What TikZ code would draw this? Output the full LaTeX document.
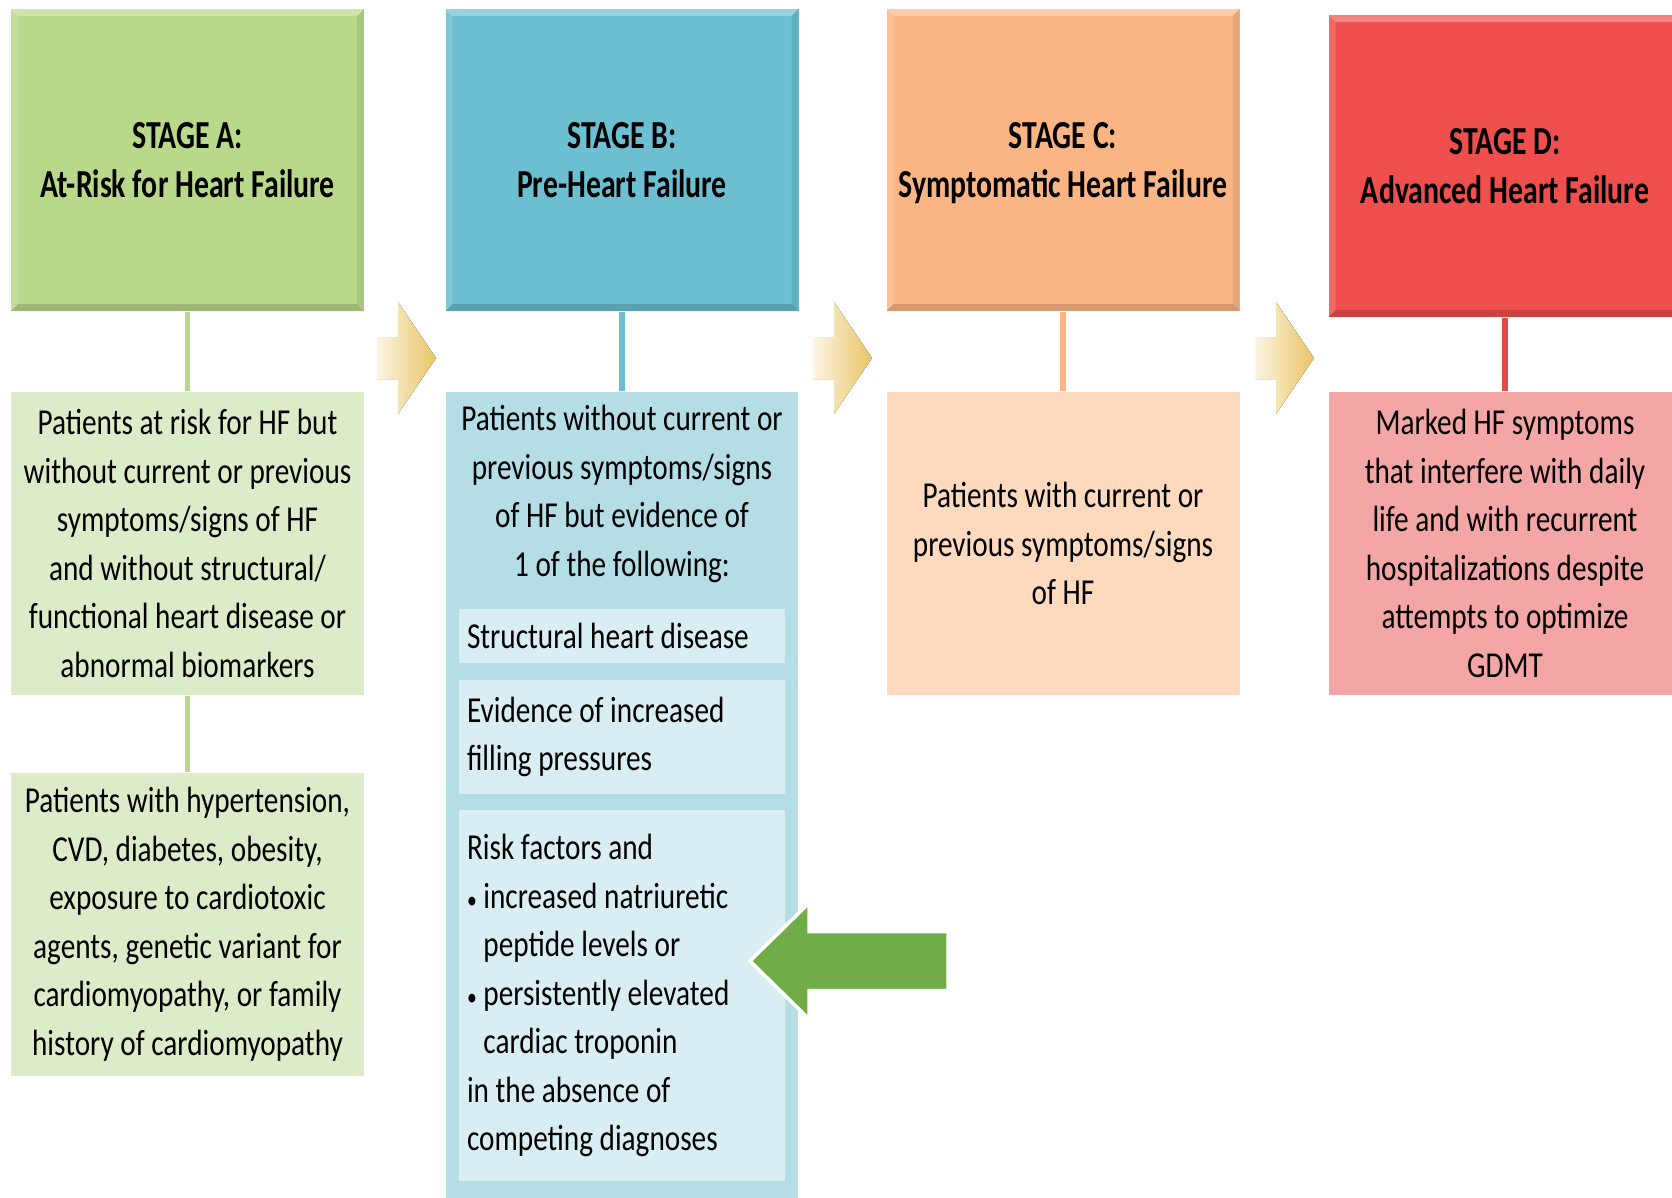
\documentclass[tikz,border=0pt]{standalone}
\usepackage{fontspec}
\setmainfont{Carlito}[FakeStretch=0.80,BoldFeatures={FakeStretch=0.75}]
\definecolor{hfgreen}{HTML}{B9D98A}
\definecolor{hfgreenpale}{HTML}{DDECC8}
\definecolor{hfteal}{HTML}{6BBFD0}
\definecolor{hftealpale}{HTML}{B4DDE6}
\definecolor{hftealmist}{HTML}{D9EEF2}
\definecolor{hforange}{HTML}{FBB584}
\definecolor{hforangepale}{HTML}{FDD9BE}
\definecolor{hfred}{HTML}{EE4E4C}
\definecolor{hfredpale}{HTML}{F4A6A4}
\definecolor{hfredline}{HTML}{E2474A}
\definecolor{hfarrow}{HTML}{70AD47}
\definecolor{hfgoldlight}{HTML}{FCF5E2}
\definecolor{hfgold}{HTML}{E9C466}
\newcommand{\hfdot}{{\fontsize{7}{7}\selectfont\textbullet}\ }

\begin{document}
\begin{tikzpicture}[
    stage/.style={minimum width=3.53cm,minimum height=3.02cm,inner sep=0pt,align=center,text depth=0pt,
      font=\bfseries\fontsize{11.3}{13.9}\selectfont,
      path picture={
        \fill[white,opacity=.3] (path picture bounding box.north west) -- (path picture bounding box.north east)
          -- ([shift={(-.07,-.07)}]path picture bounding box.north east) -- ([shift={(.07,-.07)}]path picture bounding box.north west) -- cycle;
        \fill[white,opacity=.15] (path picture bounding box.north west) -- ([shift={(.07,-.07)}]path picture bounding box.north west)
          -- ([shift={(.07,.07)}]path picture bounding box.south west) -- (path picture bounding box.south west) -- cycle;
        \fill[black,opacity=.08] (path picture bounding box.north east) -- ([shift={(-.07,-.07)}]path picture bounding box.north east)
          -- ([shift={(-.07,.07)}]path picture bounding box.south east) -- (path picture bounding box.south east) -- cycle;
        \fill[black,opacity=.15] (path picture bounding box.south west) -- (path picture bounding box.south east)
          -- ([shift={(-.07,.07)}]path picture bounding box.south east) -- ([shift={(.07,.07)}]path picture bounding box.south west) -- cycle;
      }},
    body/.style={minimum width=3.53cm,minimum height=3.03cm,inner sep=0pt,align=center,
      font=\fontsize{10.4}{13.8}\selectfont},
    item/.style={fill=hftealmist,text width=3.10cm,inner xsep=.08cm,inner ysep=0pt,align=flush left,
      font=\fontsize{10.4}{13.8}\selectfont},
    link/.style={line width=1.7pt},
    chev/.style={left color=hfgoldlight,right color=hfgold}]
  \useasboundingbox (0,0) rectangle (16.72,-11.97);
  \clip (0,0) rectangle (16.72,-11.97);

  % stage headers
  \node[stage,fill=hfgreen] (hA) at (1.875,-1.60) {STAGE A:\\At-Risk for Heart Failure};
  \node[stage,fill=hfteal] (hB) at (6.22,-1.60) {STAGE B:\\Pre-Heart Failure};
  \node[stage,fill=hforange] (hC) at (10.63,-1.60) {STAGE C:\\Symptomatic Heart Failure};
  \node[stage,fill=hfred] (hD) at (15.05,-1.66) {STAGE D:\\Advanced Heart Failure};

  % stage A
  \node[body,fill=hfgreenpale] (bA1) at (1.875,-5.435) {Patients at risk for HF but\\without current or previous\\symptoms/signs of HF\\and without structural/\\functional heart disease or\\abnormal biomarkers};
  \node[body,fill=hfgreenpale] (bA2) at (1.875,-9.24) {Patients with hypertension,\\CVD, diabetes, obesity,\\exposure to cardiotoxic\\agents, genetic variant for\\cardiomyopathy, or family\\history of cardiomyopathy};
  \draw[link,hfgreen] (hA) -- (bA1);
  \draw[link,hfgreen] (bA1) -- (bA2);

  % stage B
  \node[minimum width=3.52cm,minimum height=8.18cm,inner sep=0pt,fill=hftealpale] (bB) at (6.22,-8.01) {};
  \node[body,minimum height=0pt] (bBtxt) at (6.22,-4.94) {Patients without current or\\previous symptoms/signs\\of HF but evidence of\\1 of the following:};
  \node[item,minimum height=.54cm] (sB1) at (6.22,-6.36) {Structural heart disease};
  \node[item,minimum height=1.14cm] (sB2) at (6.22,-7.37) {Evidence of increased\\filling pressures};
  \node[item,minimum height=3.71cm] (sB3) at (6.22,-9.955) {Risk factors and\\\hfdot increased natriuretic\\\phantom{\hfdot}peptide levels or\\\hfdot persistently elevated\\\phantom{\hfdot}cardiac troponin\\in the absence of\\competing diagnoses};
  \draw[link,hfteal] (hB) -- (bB);

  % stage C and D
  \node[body,fill=hforangepale] (bC) at (10.63,-5.435) {Patients with current or\\previous symptoms/signs\\of HF};
  \draw[link,hforange] (hC) -- (bC);
  \node[body,fill=hfredpale] (bD) at (15.05,-5.435) {Marked HF symptoms\\that interfere with daily\\life and with recurrent\\hospitalizations despite\\attempts to optimize\\GDMT};
  \draw[link,hfredline] (hD) -- (bD);

  % progression chevrons
  \coordinate (ab) at (4.36,-3.58);
  \coordinate (bc) at (8.72,-3.58);
  \coordinate (cd) at (13.14,-3.58);
  \foreach \c in {ab,bc,cd}
    \fill[chev] (\c) -- ([shift={(-.38,.56)}]\c) -- ([shift={(-.38,.21)}]\c) -- ([shift={(-.59,.21)}]\c)
      -- ([shift={(-.59,-.21)}]\c) -- ([shift={(-.38,-.21)}]\c) -- ([shift={(-.38,-.56)}]\c) -- cycle;

  % pointer to risk factors
  \coordinate (gtip) at (7.50,-9.61);
  \filldraw[fill=hfarrow,draw=white,line width=1pt] (gtip) -- ++(.59,.58) -- ++(0,-.285) -- ++(1.39,0)
    -- ++(0,-.59) -- ++(-1.39,0) -- ++(0,-.285) -- cycle;
\end{tikzpicture}
\end{document}
